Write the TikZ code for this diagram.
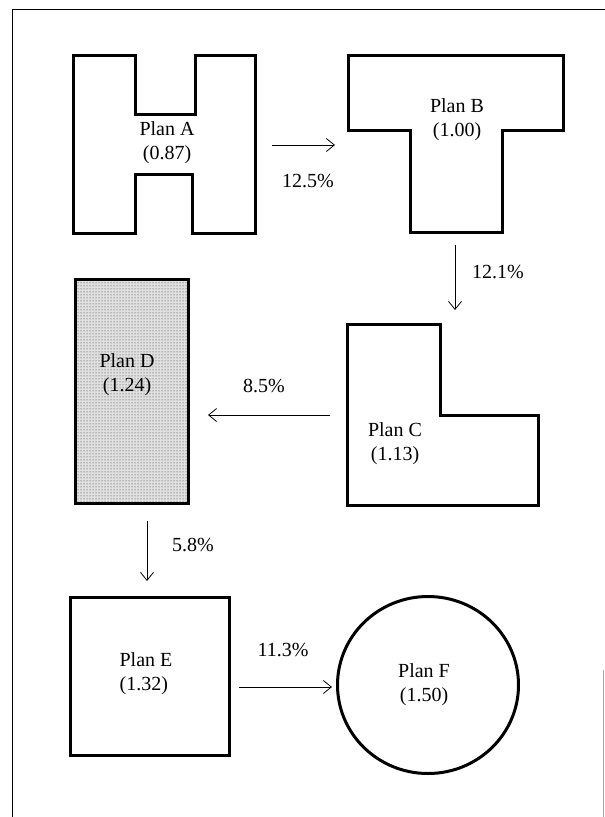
\documentclass[tikz,border=0pt]{standalone}
\usepackage{fontspec}
\setmainfont{Liberation Serif}
\usepackage{tikz}
\usetikzlibrary{arrows.meta,patterns}
\begin{document}
\begin{tikzpicture}[x=1pt,y=-1pt,
  plan/.style={line width=3pt,line join=miter},
  flow/.style={-{Straight Barb[length=8pt,width=13pt]},line width=.8pt},
  lbl/.style={font=\fontsize{20}{24}\selectfont,align=center,inner sep=0pt},
  pct/.style={font=\fontsize{20}{22}\selectfont,inner sep=0pt}]
\useasboundingbox (0,0) rectangle (605,817);
% frame
\draw[line width=1.6pt] (12.5,817) -- (12.5,9.5) -- (605,9.5);
\draw[gray!70,line width=.6pt] (603,670) -- (603,817);
% plan A
\draw[plan] (73,55) -- (135,55) -- (135,114) -- (195,114) -- (195,55) -- (255,55) -- (255,233) -- (192,233) -- (192,174) -- (135,174) -- (135,233) -- (73,233) -- cycle;
\node[lbl] (planA) at (167,143) {Plan A\\(0.87)};
% plan B
\draw[plan] (348,55) -- (563,55) -- (563,130) -- (502,130) -- (502,232) -- (410,232) -- (410,130) -- (348,130) -- cycle;
\node[lbl] (planB) at (457,120) {Plan B\\(1.00)};
% plan C
\draw[plan] (347,324) -- (440,324) -- (440,415) -- (538,415) -- (538,505) -- (347,505) -- cycle;
\node[lbl] (planC) at (395,444) {Plan C\\(1.13)};
% plan D
\fill[black!12] (75,279) rectangle (188,503);
\fill[pattern=dots,pattern color=black!80] (75,279) rectangle (188,503);
\draw[plan] (75,279) rectangle (188,503);
\node[lbl] (planD) at (127,375) {Plan D\\(1.24)};
% plan E
\draw[plan] (70,597) rectangle (229,755);
\node[lbl,align=left] (planE) at (146,674) {Plan E\\(1.32)};
% plan F
\draw[plan] (428,685) circle[x radius=90.5pt,y radius=88.5pt];
\node[lbl] (planF) at (424,685) {Plan F\\(1.50)};
% arrows
\coordinate (aOut) at (272,145); \coordinate (bIn) at (335,145);
\coordinate (bOut) at (455,245); \coordinate (cIn) at (455,310);
\coordinate (cOut) at (330,415); \coordinate (dIn) at (208,415);
\coordinate (dOut) at (147,521); \coordinate (eIn) at (147,581);
\coordinate (eOut) at (239,687); \coordinate (fIn) at (332,687);
\draw[flow] (aOut) -- (bIn);
\draw[flow] (bOut) -- (cIn);
\draw[flow] (cOut) -- (dIn);
\draw[flow] (dOut) -- (eIn);
\draw[flow] (eOut) -- (fIn);
\node[pct] (ab) at (308,181) {12.5\%};
\node[pct] (bc) at (498,272) {12.1\%};
\node[pct] (cd) at (264,386) {8.5\%};
\node[pct] (de) at (193,545) {5.8\%};
\node[pct] (ef) at (283,650) {11.3\%};
\end{tikzpicture}
\end{document}
